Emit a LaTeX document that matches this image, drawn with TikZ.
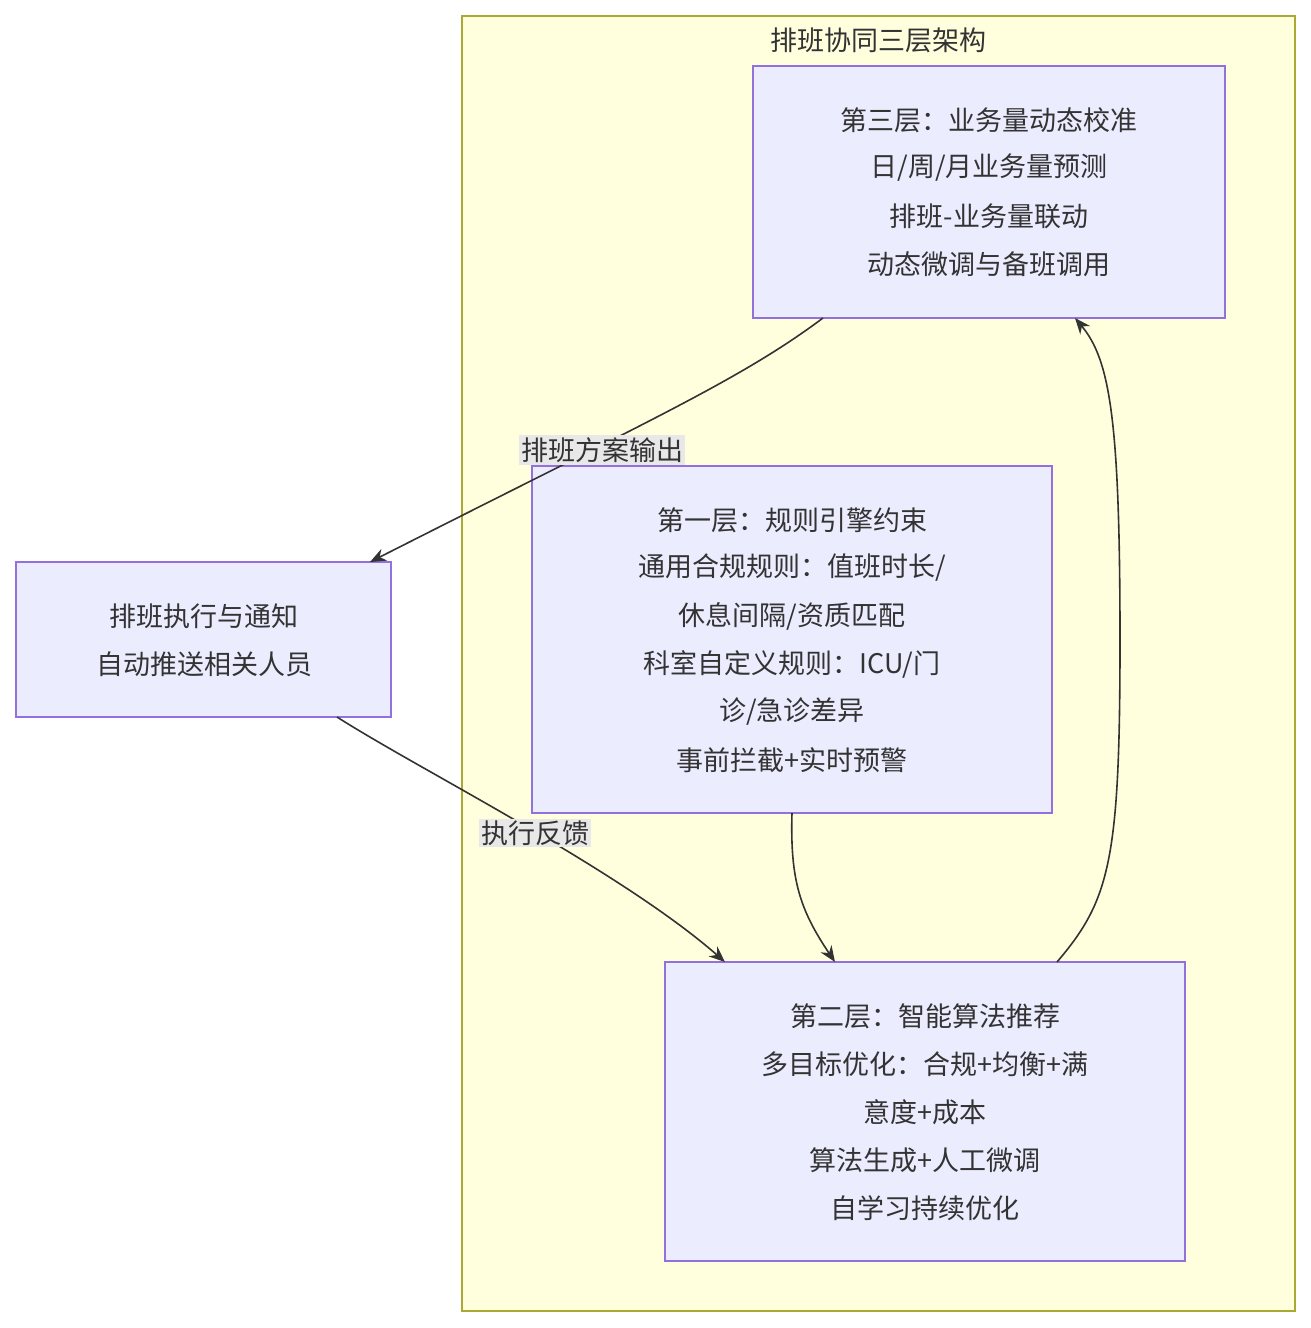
\documentclass[tikz,border=0pt]{standalone}
\usepackage{fontspec}
\setmainfont{Noto Sans CJK SC}
\usetikzlibrary{arrows.meta}
\definecolor{clfill}{HTML}{FFFFDE}
\definecolor{cldraw}{HTML}{AAAA33}
\definecolor{ndfill}{HTML}{ECECFF}
\definecolor{nddraw}{HTML}{9370DB}
\definecolor{txt}{HTML}{333333}
\definecolor{lbl}{HTML}{E8E8E8}
\tikzset{
  box/.style={draw=nddraw, fill=ndfill, line width=1.3pt},
  txtline/.style={text=txt, font=\fontsize{27}{30}\selectfont, anchor=center, inner sep=0pt},
  edge/.style={draw=txt, line width=1.6pt, -{Stealth[length=16pt,width=13pt]}},
  elabel/.style={fill=lbl, text=txt, font=\fontsize{27}{30}\selectfont, inner sep=2pt}
}
\begin{document}
\begin{tikzpicture}[x=1pt,y=-1pt]
\useasboundingbox (0,0) rectangle (1311,1328);
% cluster
\draw[fill=clfill, draw=cldraw, line width=1.3pt] (462,16) rectangle (1295,1311);
\node[txtline] (title) at (878,40) {排班协同三层架构};
% boxes
\draw[box] (753,66) rectangle (1225,318);
\draw[box] (532,466) rectangle (1052,813);
\draw[box] (665,962) rectangle (1185,1261);
\draw[box] (16,562) rectangle (391,717);
\coordinate (l3b) at (823,318);
\coordinate (l3in) at (1075,318);
\coordinate (l1b) at (792,813);
\coordinate (l2a) at (725,962);
\coordinate (l2b) at (835,962);
\coordinate (l2c) at (1057,962);
\coordinate (exin) at (370,562);
\coordinate (exout) at (337,717);
% texts
\foreach \t [count=\i] in {第三层：业务量动态校准, 日/周/月业务量预测, 排班-业务量联动, 动态微调与备班调用}
  \node[txtline] (l3t\i) at (989,72+48*\i) {\t};
\foreach \t [count=\i] in {第一层：规则引擎约束, 通用合规规则：值班时长/, 休息间隔/资质匹配, 科室自定义规则：ICU/门, 诊/急诊差异, 事前拦截+实时预警}
  \node[txtline] (l1t\i) at (792,472+48*\i) {\t};
\foreach \t [count=\i] in {第二层：智能算法推荐, 多目标优化：合规+均衡+满, 意度+成本, 算法生成+人工微调, 自学习持续优化}
  \node[txtline] (l2t\i) at (925,968+48*\i) {\t};
\foreach \t [count=\i] in {排班执行与通知, 自动推送相关人员}
  \node[txtline] (ext\i) at (204,568+48*\i) {\t};
% edges
\draw[edge] (l3b) .. controls (740,380) and (650,420) .. (exin);
\node[elabel] (e1) at (602,450) {排班方案输出};
\draw[edge] (exout) .. controls (420,770) and (620,870) .. (l2a);
\node[elabel] (e2) at (535,833) {执行反馈};
\draw[edge] (l1b) .. controls (790,880) and (800,910) .. (l2b);
\draw[edge] (l2c) .. controls (1110,900) and (1120,860) .. (1120,640) .. controls (1120,420) and (1110,360) .. (l3in);
\end{tikzpicture}
\end{document}
